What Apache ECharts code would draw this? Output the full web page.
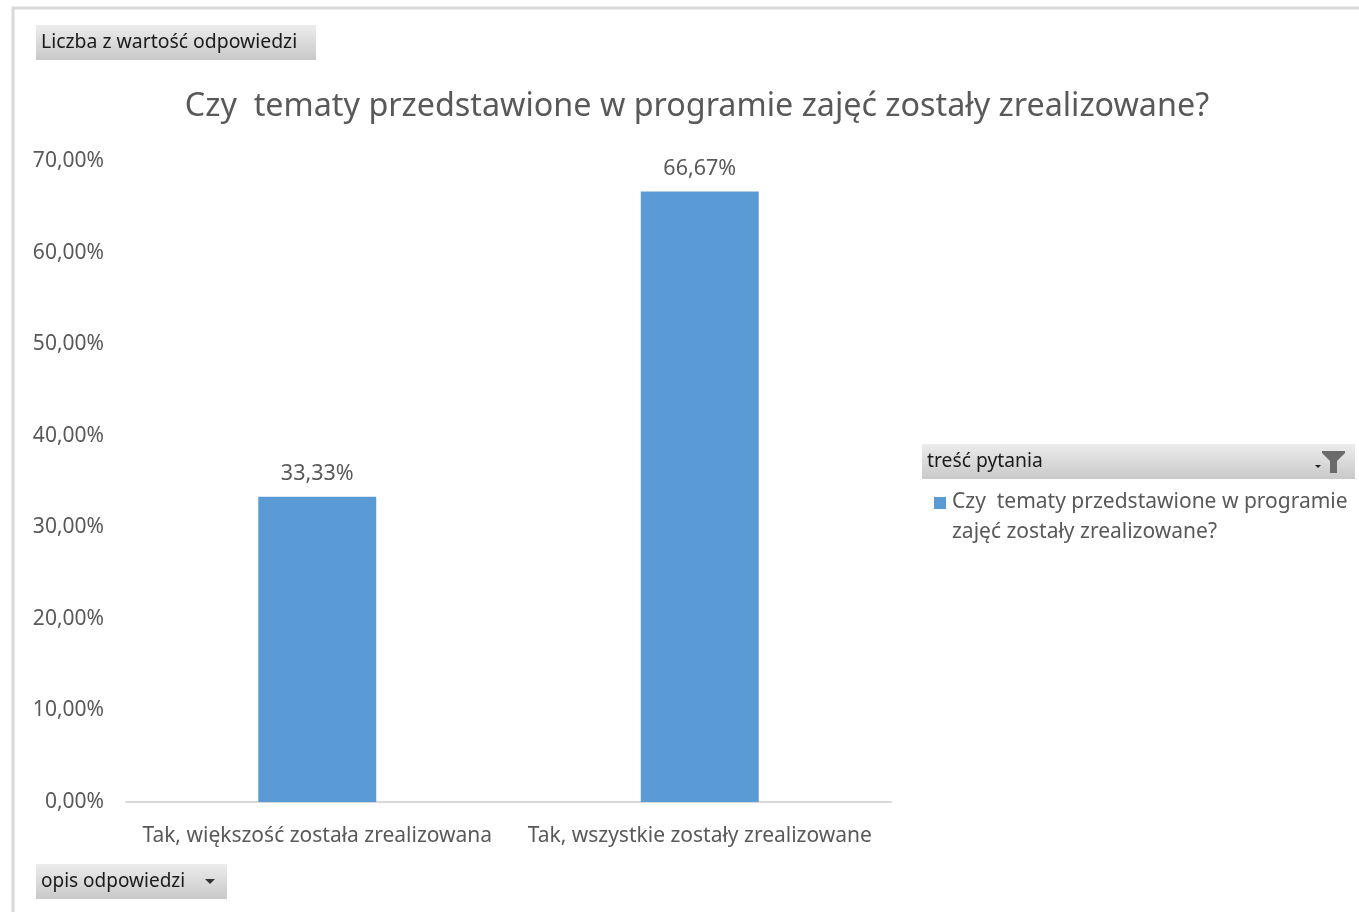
<!DOCTYPE html>
<html><head><meta charset="utf-8">
<script src="https://cdn.jsdelivr.net/npm/echarts@6/dist/echarts.min.js"></script>
<style>html,body{margin:0;padding:0;background:#fff}#c{width:1359px;height:912px}</style>
</head><body><div id="c"></div>
<script>
const titleText = 'Czy  tematy przedstawione w programie zajęć zostały zrealizowane?';
const categories = ['Tak, większość została zrealizowana', 'Tak, wszystkie zostały zrealizowane'];
const seriesName = 'Czy  tematy przedstawione w programie zajęć zostały zrealizowane?';
const values = [0.3333, 0.6667];
const yMin = 0, yMax = 0.7, yStep = 0.1;
const fieldButtonTop = 'Liczba z wartość odpowiedzi';
const fieldButtonBottom = 'opis odpowiedzi';
const legendHeader = 'treść pytania';

const FONT = '"Noto Sans", sans-serif';
const TXT = '#595959';
const pct = v => (v * 100).toFixed(2).replace('.', ',') + '%';
const btnFill = new echarts.graphic.LinearGradient(0, 0, 0, 1, [
  {offset: 0, color: '#ececec'}, {offset: 1, color: '#c9c9c9'}]);

const chart = echarts.init(document.getElementById('c'), null, {renderer: 'canvas'});
chart.setOption({
  backgroundColor: '#fff',
  animation: false,
  title: {
    text: titleText, left: 692, top: 86, textAlign: 'center',
    textStyle: {fontFamily: FONT, fontSize: 32.3, fontWeight: 'normal', color: TXT}
  },
  grid: {left: 126, right: 468, top: 161, bottom: 110, containLabel: false},
  legend: {
    left: 934, top: 487, padding: 0, orient: 'vertical',
    icon: 'path://M0,0L12,0L12,12L0,12Z M0,40L12,40Z', itemWidth: 12, itemHeight: 40, itemGap: 6,
    formatter: n => n.replace(' w programie ', ' w programie\n'),
    textStyle: {fontFamily: FONT, fontSize: 21, color: TXT, lineHeight: 30, padding: [0,0,0,1]},
    data: [seriesName]
  },
  xAxis: {
    type: 'category', data: categories,
    axisLine: {lineStyle: {color: '#d9d9d9', width: 2}},
    axisTick: {show: false},
    axisLabel: {fontFamily: FONT, fontSize: 21, color: TXT, margin: 24, interval: 0}
  },
  yAxis: {
    type: 'value', min: yMin, max: yMax, interval: yStep,
    axisLine: {show: false}, axisTick: {show: false},
    splitLine: {show: false},
    axisLabel: {fontFamily: FONT, fontSize: 21, color: TXT, margin: 22, formatter: pct}
  },
  series: [{
    name: seriesName, type: 'bar', data: values, barWidth: 118,
    itemStyle: {color: '#5B9BD5'},
    label: {show: true, position: 'top', distance: 12, formatter: p => pct(p.value),
      fontFamily: FONT, fontSize: 21.5, color: TXT}
  }],
  graphic: [
    {type: 'rect', shape: {x: 13, y: 8, width: 1400, height: 1000}, style: {fill: 'none', stroke: '#d9d9d9', lineWidth: 3}, silent: true},
    {type: 'group', left: 36, top: 25, children: [
      {type: 'rect', shape: {x: 0, y: 0, width: 280, height: 35}, style: {fill: btnFill}},
      {type: 'text', x: 5, y: 17.5, style: {text: fieldButtonTop, fontFamily: FONT, fontSize: 19.4, fill: '#1a1a1a', verticalAlign: 'middle'}}
    ]},
    {type: 'group', left: 36, top: 864, children: [
      {type: 'rect', shape: {x: 0, y: 0, width: 191, height: 35}, style: {fill: btnFill}},
      {type: 'text', x: 5, y: 17.5, style: {text: fieldButtonBottom, fontFamily: FONT, fontSize: 19, fill: '#1a1a1a', verticalAlign: 'middle'}},
      {type: 'polygon', shape: {points: [[169, 15], [179, 15], [174, 20]]}, style: {fill: '#333'}}
    ]},
    {type: 'group', left: 922, top: 444, children: [
      {type: 'rect', shape: {x: 0, y: 0, width: 433, height: 35}, style: {fill: btnFill}},
      {type: 'text', x: 5, y: 17.5, style: {text: legendHeader, fontFamily: FONT, fontSize: 19.3, fill: '#1a1a1a', verticalAlign: 'middle'}},
      {type: 'polygon', shape: {points: [[393, 21], [399, 21], [396, 24]]}, style: {fill: '#222'}},
      {type: 'polygon', shape: {points: [[400, 7], [423, 7], [423, 9], [415, 17], [415, 29], [408, 29], [408, 17], [400, 9]]}, style: {fill: '#6b6b6b'}}
    ]}
  ]
});
</script></body></html>
